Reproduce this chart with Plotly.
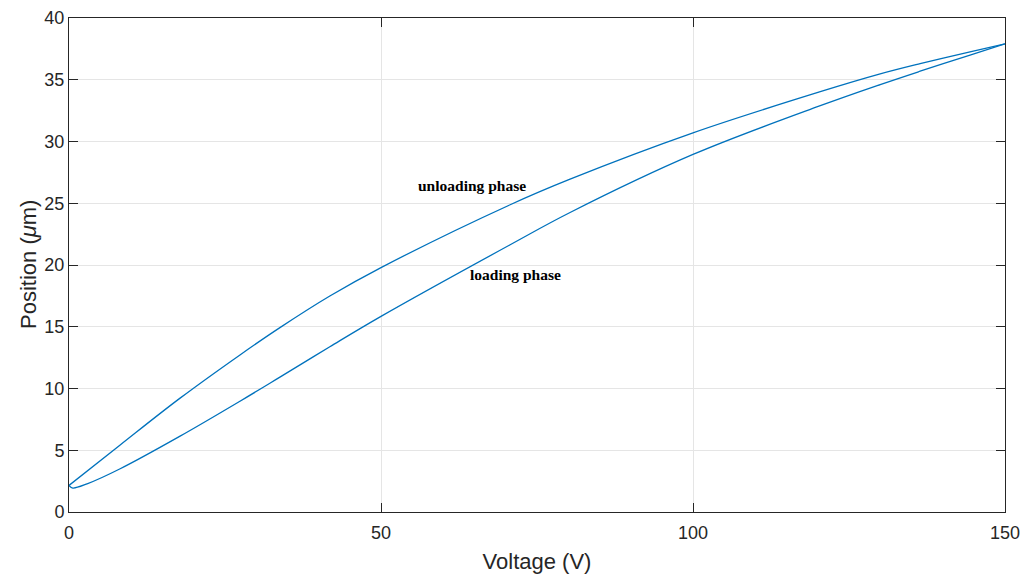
import plotly.graph_objects as go

# Loading phase (lower branch), voltage increasing
load_v = [0, 0.6, 3, 8.2, 17.8, 27.4, 33.8, 41.8, 50, 70.7, 80.3, 100, 120.4, 130, 136.4, 144.4, 150]
load_p = [2.15, 1.94, 2.30, 3.50, 6.14, 8.97, 10.92, 13.38, 15.84, 21.64, 24.25, 28.95, 32.9, 34.61, 35.69, 37.0, 37.9]

# Unloading phase (upper branch), voltage decreasing
unload_v = [150, 144.4, 136.4, 130, 120.4, 100, 80.3, 70.7, 50, 41.8, 33.8, 27.4, 17.8, 8.2, 0]
unload_p = [37.9, 37.26, 36.30, 35.47, 34.03, 30.70, 26.95, 24.88, 19.79, 17.49, 14.93, 12.72, 9.22, 5.43, 2.15]

x_ticks = [0, 50, 100, 150]
y_ticks = [0, 5, 10, 15, 20, 25, 30, 35, 40]

line_color = "#0072BD"
axis_color = "#262626"
grid_color = "#E5E5E5"

fig = go.Figure()
fig.add_trace(go.Scatter(x=load_v, y=load_p, mode="lines",
                         line=dict(color=line_color, width=1.3, shape="spline", smoothing=1.0),
                         showlegend=False))
fig.add_trace(go.Scatter(x=unload_v, y=unload_p, mode="lines",
                         line=dict(color=line_color, width=1.3, shape="spline", smoothing=1.0),
                         showlegend=False))

fig.add_annotation(x=64.6, y=26.4, text="<b>unloading phase</b>", showarrow=False,
                   font=dict(family="Liberation Serif", size=15.5, color="black"))
fig.add_annotation(x=71.5, y=19.2, text="<b>loading phase</b>", showarrow=False,
                   font=dict(family="Liberation Serif", size=15.5, color="black"))

# y-axis title placed as rotated text beside the axis
fig.add_annotation(x=-0.0438, y=0.5, xref="paper", yref="paper", text="Position (<i>μ</i>m)",
                   textangle=-90, showarrow=False, xanchor="center", yanchor="middle",
                   font=dict(family="Liberation Sans, Arial", size=22, color=axis_color))

axis_common = dict(showline=True, linecolor=axis_color, linewidth=1, mirror="ticks",
                   ticks="inside", ticklen=9, tickcolor=axis_color, tickwidth=1,
                   showgrid=True, gridcolor=grid_color, gridwidth=1, zeroline=False,
                   automargin=False,
                   tickfont=dict(family="Liberation Sans, Arial", size=18, color=axis_color),
                   title_font=dict(family="Liberation Sans, Arial", size=22, color=axis_color))

fig.update_xaxes(range=[0, 150], tickvals=x_ticks, title_text="Voltage (V)",
                 ticklabelstandoff=4, **axis_common)
fig.update_yaxes(range=[0, 40], tickvals=y_ticks, **axis_common)

fig.update_layout(width=1035, height=574, plot_bgcolor="white", paper_bgcolor="white",
                  margin=dict(l=69, r=30, t=18, b=62))

fig.write_html("out.html")
